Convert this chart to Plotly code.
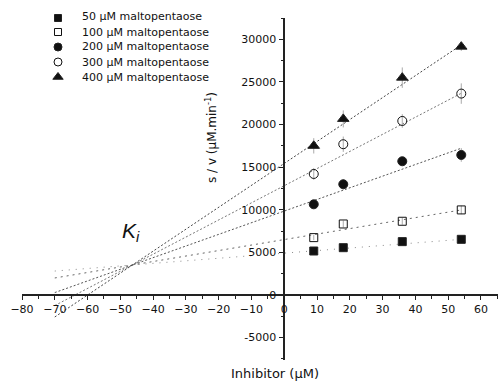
import plotly.graph_objects as go

# ---------------- data ----------------
inhibitor = [9, 18, 36, 54]
series_names = ["50 μM maltopentaose", "100 μM maltopentaose", "200 μM maltopentaose",
                "300 μM maltopentaose", "400 μM maltopentaose"]
sv_50 = [5160, 5550, 6260, 6530]
sv_100 = [6730, 8330, 8650, 9980]
sv_200 = [10640, 12990, 15690, 16430]
sv_300 = [14200, 17690, 20420, 23630]
sv_400 = [17500, 20660, 25500, 29140]
err_50 = [200, 200, 300, 300]
err_100 = [300, 400, 400, 500]
err_200 = [500, 600, 400, 800]
err_300 = [700, 900, 800, 1200]
err_400 = [900, 1000, 1200, 500]
# fitted lines
fit_slope = [30, 64.4, 136.6, 200.9, 257.4]
fit_intercept = [4909, 6502, 9844, 12822, 15438]
fit_x = [-70, 54]
x_ticks = list(range(-80, 61, 10))
y_ticks = list(range(-5000, 30001, 5000))
y_tick_labels = [str(v) for v in y_ticks]

values = [sv_50, sv_100, sv_200, sv_300, sv_400]
errors = [err_50, err_100, err_200, err_300, err_400]

# ---------------- style ----------------
W, H = 499, 383
ML, MR, MT, MB = 22, 1, 18, 23
XR = [-80, 65.2]
YR = [-7630, 32500]
FONT = "DejaVu Sans"
symbols = ["square", "square-open", "circle", "circle-open", "triangle-up"]
msizes = [8, 8, 9, 9, 10]
line_styles = [
    dict(color="#8a8a8a", width=1, dash="1px,6px"),
    dict(color="#666666", width=1, dash="2px,4px"),
    dict(color="#555555", width=1, dash="2px,2px"),
    dict(color="#777777", width=1, dash="2px,2px"),
    dict(color="#444444", width=1, dash="2px,2px"),
]


def paper_x(px):
    return (px - ML) / (W - ML - MR)


def paper_y(py):
    return (H - MB - py) / (H - MT - MB)


fig = go.Figure()

for i in range(5):
    fx = fit_x
    fy = [fit_intercept[i] + fit_slope[i] * v for v in fx]
    fig.add_trace(go.Scatter(x=fx, y=fy, mode="lines", line=line_styles[i],
                             showlegend=False, hoverinfo="skip"))

for i in range(5):
    fig.add_trace(go.Scatter(
        x=inhibitor, y=values[i], mode="markers", name=series_names[i],
        marker=dict(symbol=symbols[i], size=msizes[i], color="#111111",
                    line=dict(color="#222222", width=1)),
        error_y=dict(type="data", array=errors[i], color="#aaaaaa", thickness=1, width=0),
        showlegend=False))

# manual legend on overlay pixel axes
leg_rows = [16.5, 32, 47, 62, 77]
for i in range(5):
    fig.add_trace(go.Scatter(
        x=[58], y=[max(leg_rows[i], MT)], xaxis="x2", yaxis="y2", mode="markers",
        marker=dict(symbol=symbols[i], size=msizes[i] - 1, color="#111111",
                    line=dict(color="#222222", width=1)),
        cliponaxis=False, showlegend=False, hoverinfo="skip"))
    fig.add_annotation(x=paper_x(80), y=paper_y(leg_rows[i]), xref="paper", yref="paper",
                       text=series_names[i], showarrow=False, xanchor="left", yanchor="middle",
                       font=dict(family=FONT, size=11, color="#111111"))

x_pos = (0 - YR[0]) / (YR[1] - YR[0])
y_pos = (0 - XR[0]) / (XR[1] - XR[0])

axis_common = dict(showgrid=False, zeroline=False, showline=True, linecolor="#222222",
                   linewidth=1.5, ticks="outside", tickcolor="#222222", tickwidth=1,
                   tickfont=dict(family=FONT, size=11, color="#111111"))

fig.update_layout(
    width=W, height=H, margin=dict(l=ML, r=MR, t=MT, b=MB),
    paper_bgcolor="white", plot_bgcolor="white",
    xaxis=dict(range=XR, tickvals=x_ticks, anchor="free", position=x_pos, ticklen=4,
               minor=dict(ticks="outside", dtick=5, tick0=0, ticklen=3, tickcolor="#222222"),
               **axis_common),
    yaxis=dict(range=YR, tickvals=y_ticks, ticktext=y_tick_labels, anchor="free",
               position=y_pos, ticklen=5,
               minor=dict(ticks="outside", dtick=2500, tick0=0, ticklen=3, tickcolor="#222222"),
               **axis_common),
    xaxis2=dict(range=[ML, W - MR], overlaying="x", visible=False, anchor="y2"),
    yaxis2=dict(range=[H - MB, MT], overlaying="y", visible=False, anchor="x2"),
    showlegend=False,
)

# axis titles
fig.add_annotation(x=paper_x(275), y=paper_y(373), xref="paper", yref="paper",
                   text="Inhibitor (μM)", showarrow=False, xanchor="center", yanchor="middle",
                   font=dict(family=FONT, size=13, color="#111111"))
fig.add_annotation(x=paper_x(211), y=paper_y(138), xref="paper", yref="paper",
                   text="s / v (μM.min<sup>-1</sup>)", showarrow=False, textangle=-90,
                   xanchor="center", yanchor="middle",
                   font=dict(family=FONT, size=12, color="#111111"))
# Ki label
fig.add_annotation(x=-50, y=7400, xref="x", yref="y", text="<i>K</i><sub><i>i</i></sub>",
                   showarrow=False, xanchor="left", yanchor="middle",
                   font=dict(family="Liberation Sans", size=21, color="#111111"))

fig.write_html("out.html")
